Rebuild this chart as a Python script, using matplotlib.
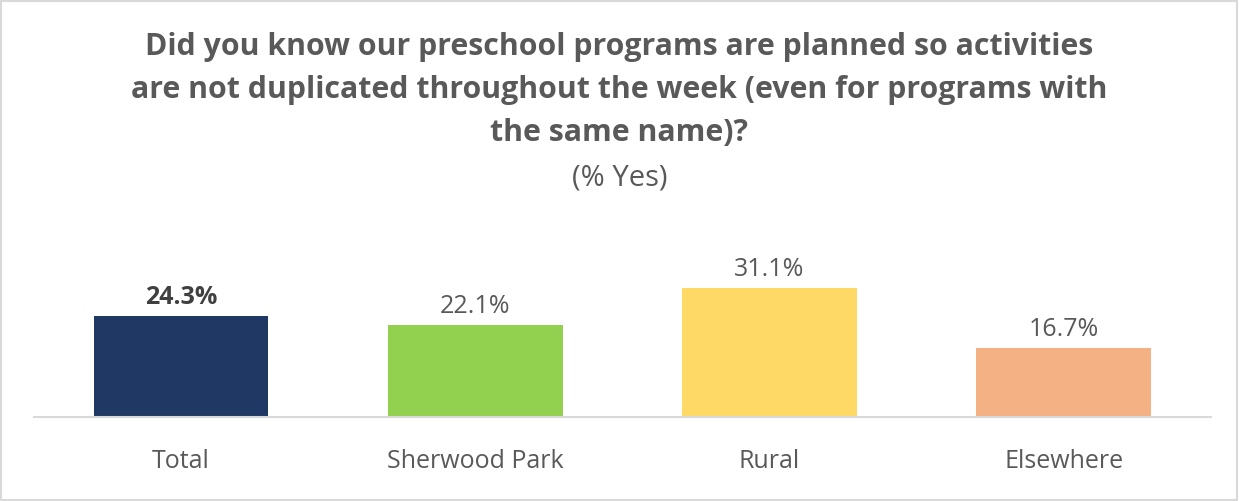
import numpy as np
import matplotlib.pyplot as plt
from matplotlib.patches import Rectangle

plt.rcParams['font.family'] = ['Open Sans', 'DejaVu Sans']

categories = ["Total", "Sherwood Park", "Rural", "Elsewhere"]
values = [24.3, 22.1, 31.1, 16.7]
colors = ["#203864", "#92d050", "#ffd966", "#f4b183"]

txt = "#595959"

fig = plt.figure(figsize=(12.39, 5.02), dpi=100)
ax = fig.add_axes([0.0274, 0.1673, 0.95, 0.4343])

x = np.arange(len(categories))
ax.bar(x, values, width=0.594, color=colors)
for i, v in enumerate(values):
    ax.annotate("%.1f%%" % v, (x[i], v), xytext=(0, 5), textcoords="offset points",
                ha="center", va="bottom", fontsize=18, color=("#404040" if i == 0 else txt),
                fontweight=("bold" if i == 0 else "normal"))

ax.set_xlim(-0.5, 3.5)
ax.set_ylim(0, 52.5)
ax.set_xticks(x)
ax.set_xticklabels(categories, fontsize=18, color=txt)
ax.tick_params(axis="x", length=0, pad=22)
ax.set_yticks([])
for s in ["top", "right", "left"]:
    ax.spines[s].set_visible(False)
ax.spines["bottom"].set_color("#d9d9d9")
ax.spines["bottom"].set_linewidth(1.5)

fig.text(0.5, 1 - 90 / 502,
         "Did you know our preschool programs are planned so activities\n"
         "are not duplicated throughout the week (even for programs with\n"
         "the same name)?",
         ha="center", va="center", fontsize=21.8, fontweight="bold", color=txt,
         linespacing=1.55)
fig.text(0.5, 1 - 178 / 502, "(% Yes)", ha="center", va="center", fontsize=21, color=txt)

fig.patches.append(Rectangle((0.001, 0.002), 0.997, 0.995, transform=fig.transFigure,
                             fill=False, edgecolor="#d9d9d9", linewidth=1.5))

fig.savefig("out.png", dpi=100)
